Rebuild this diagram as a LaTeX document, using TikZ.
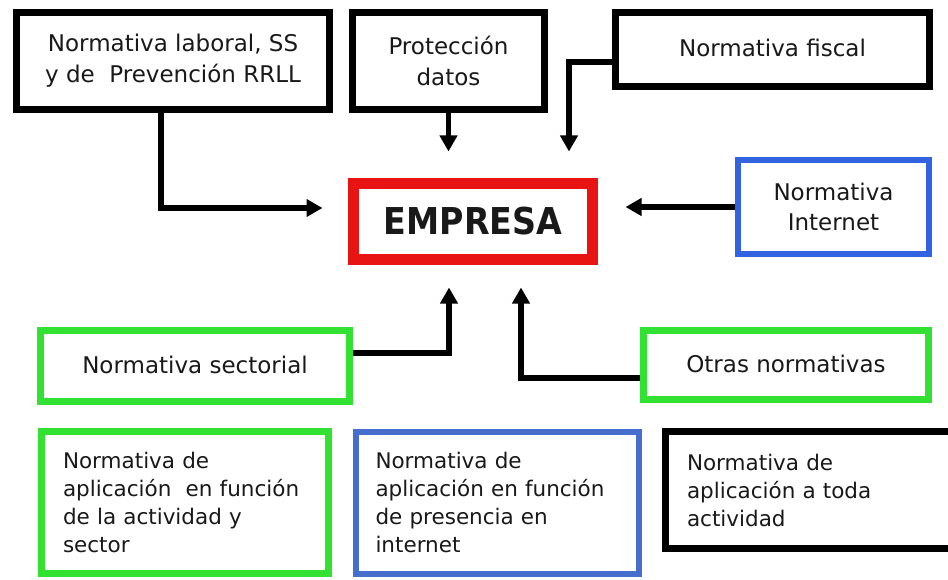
\documentclass[tikz,border=0pt]{standalone}
\usepackage{fontspec}
\setmainfont{DejaVu Sans}
\newfontfamily\empfont[FakeStretch=0.9]{DejaVu Sans}
\usetikzlibrary{arrows.meta}
\definecolor{gbox}{RGB}{50,225,50}
\definecolor{bbox}{RGB}{50,100,225}
\definecolor{bbox2}{RGB}{70,110,205}
\definecolor{rbox}{RGB}{232,20,20}
\definecolor{txt}{RGB}{25,25,25}
\begin{document}
\begin{tikzpicture}[x=1pt,y=-1pt,
  boxbase/.style={draw, inner sep=0pt, align=center, text=txt},
  blackbox/.style={boxbase, draw=black, line width=7.5pt, font=\fontsize{23}{31}\selectfont},
  bluebox/.style={boxbase, draw=bbox, line width=6pt, font=\fontsize{23}{30}\selectfont},
  greenbox/.style={boxbase, draw=gbox, line width=7pt, font=\fontsize{23}{30}\selectfont},
  lowbox/.style={inner ysep=0pt, align=left, font=\fontsize{21.5}{28}\selectfont},
  arr/.style={draw=black, line width=5.5pt, -{Triangle[width=17pt,length=16pt]}}
]
\useasboundingbox (0,0) rectangle (948,580);
\fill[white] (0,0) rectangle (948,580);
\clip (0,0) rectangle (948,580);

% top row
\node[blackbox, minimum width=313pt, minimum height=97pt] (lab) at (173,61)
  {Normativa laboral, SS\\y de~ Prevención RRLL};
\node[blackbox, minimum width=192pt, minimum height=97pt] (prot) at (448.5,61)
  {Protección\\datos};
\node[blackbox, minimum width=314pt, minimum height=74pt] (fisc) at (772.5,49.5)
  {\raisebox{3pt}{Normativa fiscal}};

% centre
\node[draw=rbox, line width=11pt, inner sep=0pt, minimum width=239pt, minimum height=76pt,
      font=\empfont\bfseries\fontsize{37}{40}\selectfont, text=txt] (emp) at (473,221.5)
  {\raisebox{-2pt}{EMPRESA}};
\node[bluebox, minimum width=191pt, minimum height=94pt] (inet) at (833.5,207)
  {Normativa\\Internet};

% middle row
\node[greenbox, minimum width=309pt, minimum height=71pt] (sect) at (195,366)
  {\raisebox{3pt}{Normativa sectorial}};
\node[greenbox, minimum width=285pt, minimum height=69pt] (otras) at (786,365)
  {\raisebox{3pt}{Otras normativas}};

% bottom row
\node[boxbase, lowbox, draw=gbox, line width=7pt, minimum width=287pt, minimum height=142pt,
      inner xsep=21.5pt, text width=244pt] (actg) at (185,502.5)
  {Normativa de\\aplicación~ en función\\de la actividad y\\sector};
\node[boxbase, lowbox, draw=bbox2, line width=6pt, minimum width=283pt, minimum height=142pt,
      inner xsep=20pt, text width=243pt] (pres) at (497,502.5)
  {Normativa de\\aplicación en función\\de presencia en\\internet};
\node[boxbase, lowbox, draw=black, line width=7.5pt, minimum width=301pt, minimum height=117pt,
      inner xsep=21.5pt, text width=258pt] (toda) at (816,490)
  {Normativa de\\aplicación a toda\\actividad};

% connectors
\draw[arr, shorten >=25.5pt] ([xshift=-12pt]lab.south) |- ([yshift=13.5pt]emp.west);
\draw[arr, shorten >=26.5pt] (prot.south) -- (prot.south |- emp.north);
\draw[arr, shorten >=26.5pt] ([yshift=-12.5pt]fisc.west) -| ([xshift=96pt]emp.north);
\draw[arr, shorten >=27.5pt] (inet.west) -- (inet.west -| emp.east);
\draw[arr, shorten >=22.5pt] ([yshift=13pt]sect.east) -| ([xshift=-24pt]emp.south);
\draw[arr, shorten >=22.5pt] ([yshift=-13pt]otras.west) -| ([xshift=48pt]emp.south);
\end{tikzpicture}
\end{document}
